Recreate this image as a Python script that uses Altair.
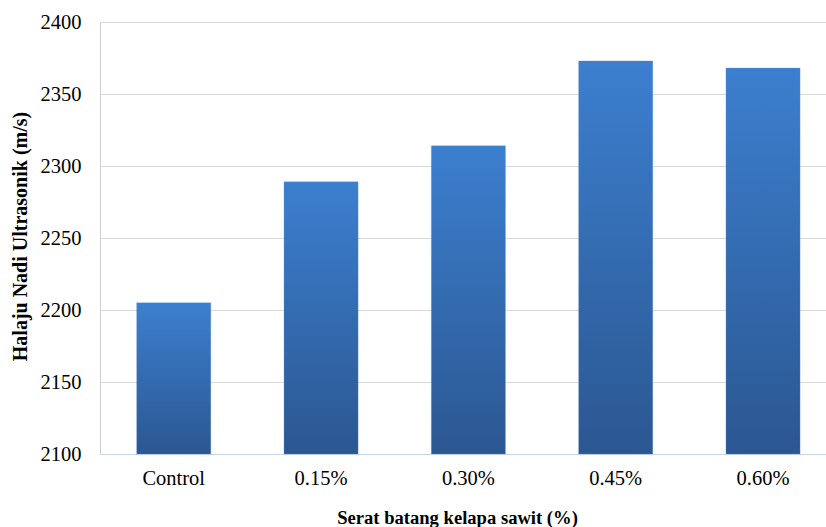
import altair as alt
import pandas as pd

# Ultrasonic pulse velocity by oil palm trunk fibre content
categories = ["Control", "0.15%", "0.30%", "0.45%", "0.60%"]
velocity = [2205, 2289, 2314, 2373, 2368]
y_ticks = [2100, 2150, 2200, 2250, 2300, 2350, 2400]
axis_floor = 2100

df = pd.DataFrame({"fibre": categories, "velocity": velocity})
df["floor"] = axis_floor

FONT = "Liberation Serif"

bar_fill = alt.Gradient(
    gradient="linear",
    x1=0, y1=0, x2=0, y2=1,
    stops=[
        alt.GradientStop(color="#3c7fcf", offset=0),
        alt.GradientStop(color="#2b5791", offset=1),
    ],
)

chart = (
    alt.Chart(df)
    .mark_bar(fill=bar_fill, stroke="#5a8fd0", strokeWidth=0.6, strokeOpacity=0.5)
    .encode(
        x=alt.X(
            "fibre:N",
            sort=categories,
            scale=alt.Scale(paddingInner=0.497, paddingOuter=0.2125, align=0.586),
            axis=alt.Axis(
                title="Serat batang kelapa sawit (%)",
                titleFont=FONT,
                titleFontSize=18.6,
                titleFontWeight="bold",
                titleColor="#000000",
                titleX=357,
                titleY=69,
                titleBaseline="alphabetic",
                titleAlign="center",
                labelFont=FONT,
                labelFontSize=20.5,
                labelColor="#000000",
                labelAngle=0,
                labelPadding=14,
                ticks=False,
                domainColor="#c6d6ee",
                domainWidth=1.2,
                grid=False,
            ),
        ),
        y=alt.Y(
            "velocity:Q",
            scale=alt.Scale(domain=[2100, 2400], nice=False, zero=False),
            axis=alt.Axis(
                title="Halaju Nadi Ultrasonik (m/s)",
                titleFont=FONT,
                titleFontSize=20,
                titleFontWeight="bold",
                titleColor="#000000",
                titleAngle=-90,
                titleX=-80,
                titleY=214,
                titleAlign="center",
                titleBaseline="middle",
                values=y_ticks,
                format="d",
                labelFont=FONT,
                labelFontSize=20.5,
                labelColor="#000000",
                labelPadding=19,
                ticks=False,
                domainColor="#d0d0d0",
                grid=True,
                gridColor="#d9d9d9",
                gridWidth=1.2,
            ),
        ),
        y2="floor:Q",
    )
    .properties(
        width=726,
        height=432,
        autosize=alt.AutoSizeParams(type="none"),
        padding={"left": 100, "top": 22, "right": 0, "bottom": 73},
    )
    .configure_view(stroke=None)
    .configure_axis(labelFont=FONT, titleFont=FONT)
    .configure(background="#ffffff", font=FONT)
)

chart.save("out.html", embed_options={"renderer": "svg", "actions": False})
